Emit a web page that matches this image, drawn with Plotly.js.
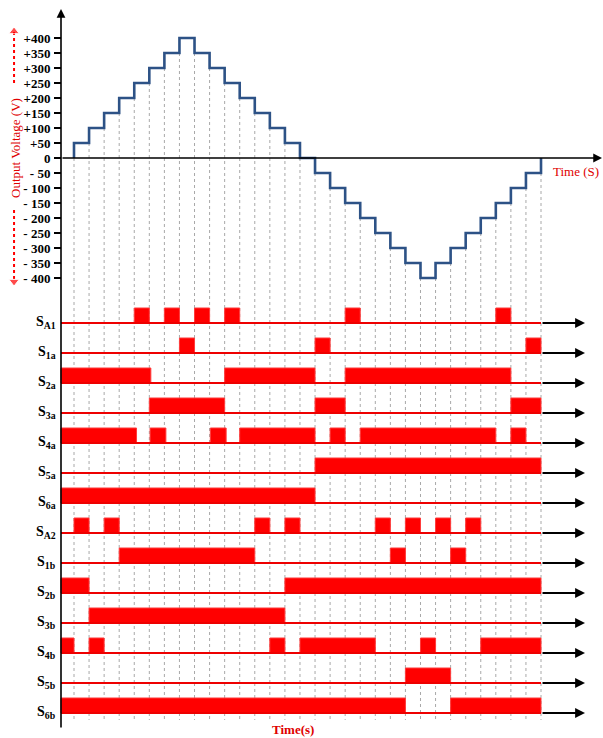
<!DOCTYPE html>
<html>
<head>
<meta charset="utf-8">
<script src="https://cdn.plot.ly/plotly-3.0.1.min.js"></script>
<style>html,body{margin:0;padding:0;background:#fff;}#chart{width:603px;height:738px;}</style>
</head>
<body>
<div id="chart"></div>
<script>
// ---- data (time in switching-slot units) ----
const LEVELS = [50,100,150,200,250,300,350,400,350,300,250,200,150,100,50,0,
  -50,-100,-150,-200,-250,-300,-350,-400,-350,-300,-250,-200,-150,-100,-50];
const TICK_VALS = [400,350,300,250,200,150,100,50,0,-50,-100,-150,-200,-250,-300,-350,-400];
const TICK_TEXT = ['+400','+350','+300','+250','+200','+150','+100','+50','0',
  '- 50','- 100','- 150','- 200','- 250','- 300','- 350','- 400'];
const T0 = -0.863;   // time at the vertical axis
const TEND = 31;     // end of the cycle

const SIGNAL_NAMES = ['S<sub>A1</sub>','S<sub>1a</sub>','S<sub>2a</sub>','S<sub>3a</sub>','S<sub>4a</sub>',
  'S<sub>5a</sub>','S<sub>6a</sub>','S<sub>A2</sub>','S<sub>1b</sub>','S<sub>2b</sub>','S<sub>3b</sub>',
  'S<sub>4b</sub>','S<sub>5b</sub>','S<sub>6b</sub>'];
const sA1 = [[4,5],[6,7],[8,9],[10,11],[18,19],[28,29]];
const s1a = [[7,8],[16,17],[30,31]];
const s2a = [[T0,5.1],[10,16],[18,29]];
const s3a = [[5,10],[16,18],[29,31]];
const s4a = [[T0,4.15],[5.05,6.1],[9.05,10.1],[11,16],[17,18],[19,28],[29,30]];
const s5a = [[16,31]];
const s6a = [[T0,16]];
const sA2 = [[0,1],[2,3],[12,13],[14,15],[20,21],[22,23],[24,25],[26,27]];
const s1b = [[3,12],[21,22],[25,26]];
const s2b = [[T0,1],[14,31]];
const s3b = [[1,14]];
const s4b = [[T0,0],[1,2],[13,14],[15,20],[23,24],[27,31]];
const s5b = [[22,25]];
const s6b = [[T0,22],[25,31]];
const SIGNALS = [sA1,s1a,s2a,s3a,s4a,s5a,s6a,sA2,s1b,s2b,s3b,s4b,s5b,s6b];

// ---- build traces ----
const SERIF = 'Liberation Serif, Times New Roman, serif';
const traces = [];

// dotted guide lines at every step boundary
const gx = [], gy = [];
for (let k = 0; k <= LEVELS.length; k++) {
  const left = k === 0 ? 0 : LEVELS[k-1];
  const right = k === LEVELS.length ? 0 : LEVELS[k];
  gx.push(k, k, null);
  gy.push(Math.min(left, right), -1873, null);
}
traces.push({type:'scatter', mode:'lines', x:gx, y:gy, xaxis:'x', yaxis:'y',
  line:{color:'#a8a8a8', width:1, dash:'dot'}, hoverinfo:'skip', showlegend:false});

// staircase output voltage
const sx = [0], sy = [0];
LEVELS.forEach((v,k) => { sx.push(k); sy.push(v); });
sx.push(TEND); sy.push(0);
traces.push({type:'scatter', mode:'lines', x:sx, y:sy, xaxis:'x', yaxis:'y',
  line:{color:'#2d5286', width:2.6, shape:'hv'}, showlegend:false});

// red dotted arrows beside the axis title
traces.push({type:'scatter', mode:'lines+markers', x:[-3.98,-3.98], y:[250,422], xaxis:'x', yaxis:'y',
  line:{color:'#ff0000', width:2, dash:'dot'}, marker:{symbol:'triangle-up', size:[0,9], color:'#ff0000'},
  showlegend:false, hoverinfo:'skip'});
traces.push({type:'scatter', mode:'lines+markers', x:[-3.98,-3.98], y:[-173,-412], xaxis:'x', yaxis:'y',
  line:{color:'#ff0000', width:2, dash:'dot'}, marker:{symbol:'triangle-down', size:[0,9], color:'#ff0000'},
  showlegend:false, hoverinfo:'skip'});

// switching pulses
const bx = [], bw = [], bb = [], by = [];
SIGNALS.forEach((ivs, i) => {
  ivs.forEach(([a,b]) => { bx.push((a+b)/2); bw.push(b-a); bb.push(-i); by.push(0.5); });
});
traces.push({type:'bar', x:bx, y:by, base:bb, width:bw, xaxis:'x', yaxis:'y2',
  marker:{color:'#ff0000', line:{color:'#ff3b3b', width:1}}, showlegend:false, hoverinfo:'skip'});

// baselines
SIGNALS.forEach((ivs, i) => {
  traces.push({type:'scatter', mode:'lines', x:[T0, TEND], y:[-i,-i], xaxis:'x', yaxis:'y2',
    line:{color:'#ee0000', width:2}, showlegend:false, hoverinfo:'skip'});
});

// ---- annotations ----
const ann = [];
function arrow(x, y, ax, ay, yref, w) {
  ann.push({x:x, y:y, ax:ax, ay:ay, xref:'x', yref:yref, axref:'x', ayref:yref, text:'',
    showarrow:true, arrowhead:2, arrowsize:1.1, arrowwidth:w, arrowcolor:'#000', standoff:0});
}
arrow(T0, 497, T0, -1903, 'y', 1.6);     // vertical axis
arrow(35.05, 0, T0, 0, 'y', 1.6);        // time axis
SIGNALS.forEach((ivs, i) => arrow(33.92, -i, TEND, -i, 'y2', 1.8));

SIGNAL_NAMES.forEach((nm, i) => {
  ann.push({x:58/603, xref:'paper', xanchor:'right', y:-i+0.03, yref:'y2', yanchor:'middle',
    text:'<b>' + nm + '</b>', showarrow:false, font:{family:SERIF, size:14, color:'#000', weight:'bold'}});
});

ann.push({x:15/603, y:1-148/738, xref:'paper', yref:'paper', xanchor:'center', yanchor:'middle',
  text:'Output Voltage (V)', textangle:-90,
  showarrow:false, font:{family:SERIF, size:13, color:'#e00000'}});
ann.push({x:576/603, y:1-171/738, xref:'paper', yref:'paper', xanchor:'center', yanchor:'middle',
  text:'Time (S)', showarrow:false, font:{family:SERIF, size:13, color:'#e00000'}});
ann.push({x:293/603, y:1-729/738, xref:'paper', yref:'paper', xanchor:'center', yanchor:'middle',
  text:'<b>Time(s)</b>', showarrow:false, font:{family:SERIF, size:13, color:'#e00000', weight:'bold'}});

const layout = {
  width:603, height:738, margin:{l:0,r:0,t:0,b:0}, paper_bgcolor:'#fff', plot_bgcolor:'#fff',
  showlegend:false, barmode:'overlay', bargap:0,
  xaxis:{range:[-4.912, 35.115], visible:false, fixedrange:true},
  yaxis:{range:[-1933.33, 526.67], anchor:'free', position:61/603, side:'left',
    showline:false, showgrid:false, zeroline:false, ticks:'outside', ticklen:7, tickwidth:1.5,
    tickcolor:'#000', tickvals:TICK_VALS, ticktext:TICK_TEXT.map(t => '<b>' + t + '</b>'),
    ticklabelstandoff:1,
    tickfont:{family:SERIF, size:13, color:'#000', weight:'bold'}, fixedrange:true},
  yaxis2:{range:[-13.833, 10.767], overlaying:'y', visible:false, fixedrange:true},
  annotations:ann
};
Plotly.newPlot('chart', traces, layout, {staticPlot:true, displayModeBar:false});
</script>
</body>
</html>
